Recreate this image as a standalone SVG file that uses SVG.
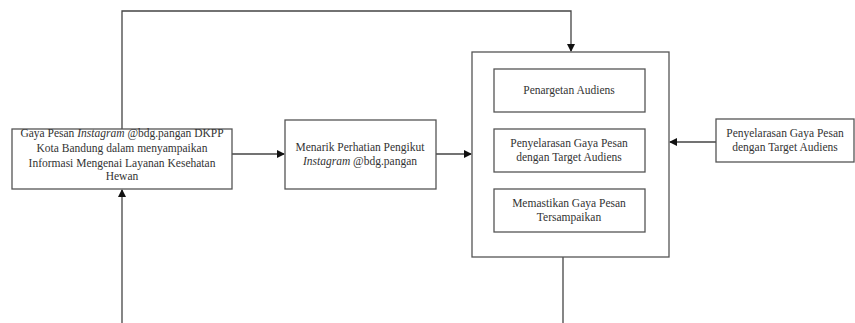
<svg xmlns="http://www.w3.org/2000/svg" width="855" height="323" viewBox="0 0 855 323">
<defs>
<marker id="arr" markerWidth="8" markerHeight="8" refX="7" refY="4" orient="auto" markerUnits="userSpaceOnUse">
<path d="M0,0 L8,4 L0,8 Z" fill="#111"/>
</marker>
<style>
.box{fill:#fff;stroke:#555;stroke-width:1.3}
.ln{fill:none;stroke:#444;stroke-width:1.3}
text{font-family:"Liberation Serif","Times New Roman",serif;font-size:11.5px;fill:#333;text-anchor:middle}
</style>
</defs>
<rect width="855" height="323" fill="#fff"/>
<g id="connectors">
<polyline class="ln" points="122,129 122,11 571,11 571,51" marker-end="url(#arr)"/>
<line class="ln" x1="122" y1="323" x2="122" y2="190" marker-end="url(#arr)"/>
<line class="ln" x1="232" y1="154" x2="284" y2="154" marker-end="url(#arr)"/>
<line class="ln" x1="436" y1="154" x2="471" y2="154" marker-end="url(#arr)"/>
<line class="ln" x1="716" y1="142" x2="670" y2="142" marker-end="url(#arr)"/>
<line class="ln" x1="563" y1="257" x2="563" y2="323"/>
</g>
<g id="node-gaya">
<rect class="box" x="12" y="129" width="220" height="60"/>
<text x="122" y="137">Gaya Pesan <tspan font-style="italic">Instagram</tspan> @bdg.pangan DKPP</text>
<text x="122" y="152">Kota Bandung dalam menyampaikan</text>
<text x="122" y="167">Informasi Mengenai Layanan Kesehatan</text>
<text x="122" y="180">Hewan</text>
</g>
<g id="node-menarik">
<rect class="box" x="285" y="120" width="151" height="69"/>
<text x="360" y="151">Menarik Perhatian Pengikut</text>
<text x="360" y="165"><tspan font-style="italic">Instagram</tspan> @bdg.pangan</text>
</g>
<g id="node-container">
<rect class="box" x="472" y="52" width="197" height="205"/>
</g>
<g id="node-penargetan">
<rect class="box" x="494" y="69" width="151" height="43"/>
<text x="569" y="94">Penargetan Audiens</text>
</g>
<g id="node-penyelarasan">
<rect class="box" x="494" y="129" width="151" height="43"/>
<text x="569" y="147">Penyelarasan Gaya Pesan</text>
<text x="569" y="161">dengan Target Audiens</text>
</g>
<g id="node-memastikan">
<rect class="box" x="494" y="189" width="151" height="43"/>
<text x="569" y="207">Memastikan Gaya Pesan</text>
<text x="569" y="221">Tersampaikan</text>
</g>
<g id="node-right">
<rect class="box" x="716" y="119" width="138" height="43"/>
<text x="785" y="137">Penyelarasan Gaya Pesan</text>
<text x="785" y="151">dengan Target Audiens</text>
</g>
</svg>
